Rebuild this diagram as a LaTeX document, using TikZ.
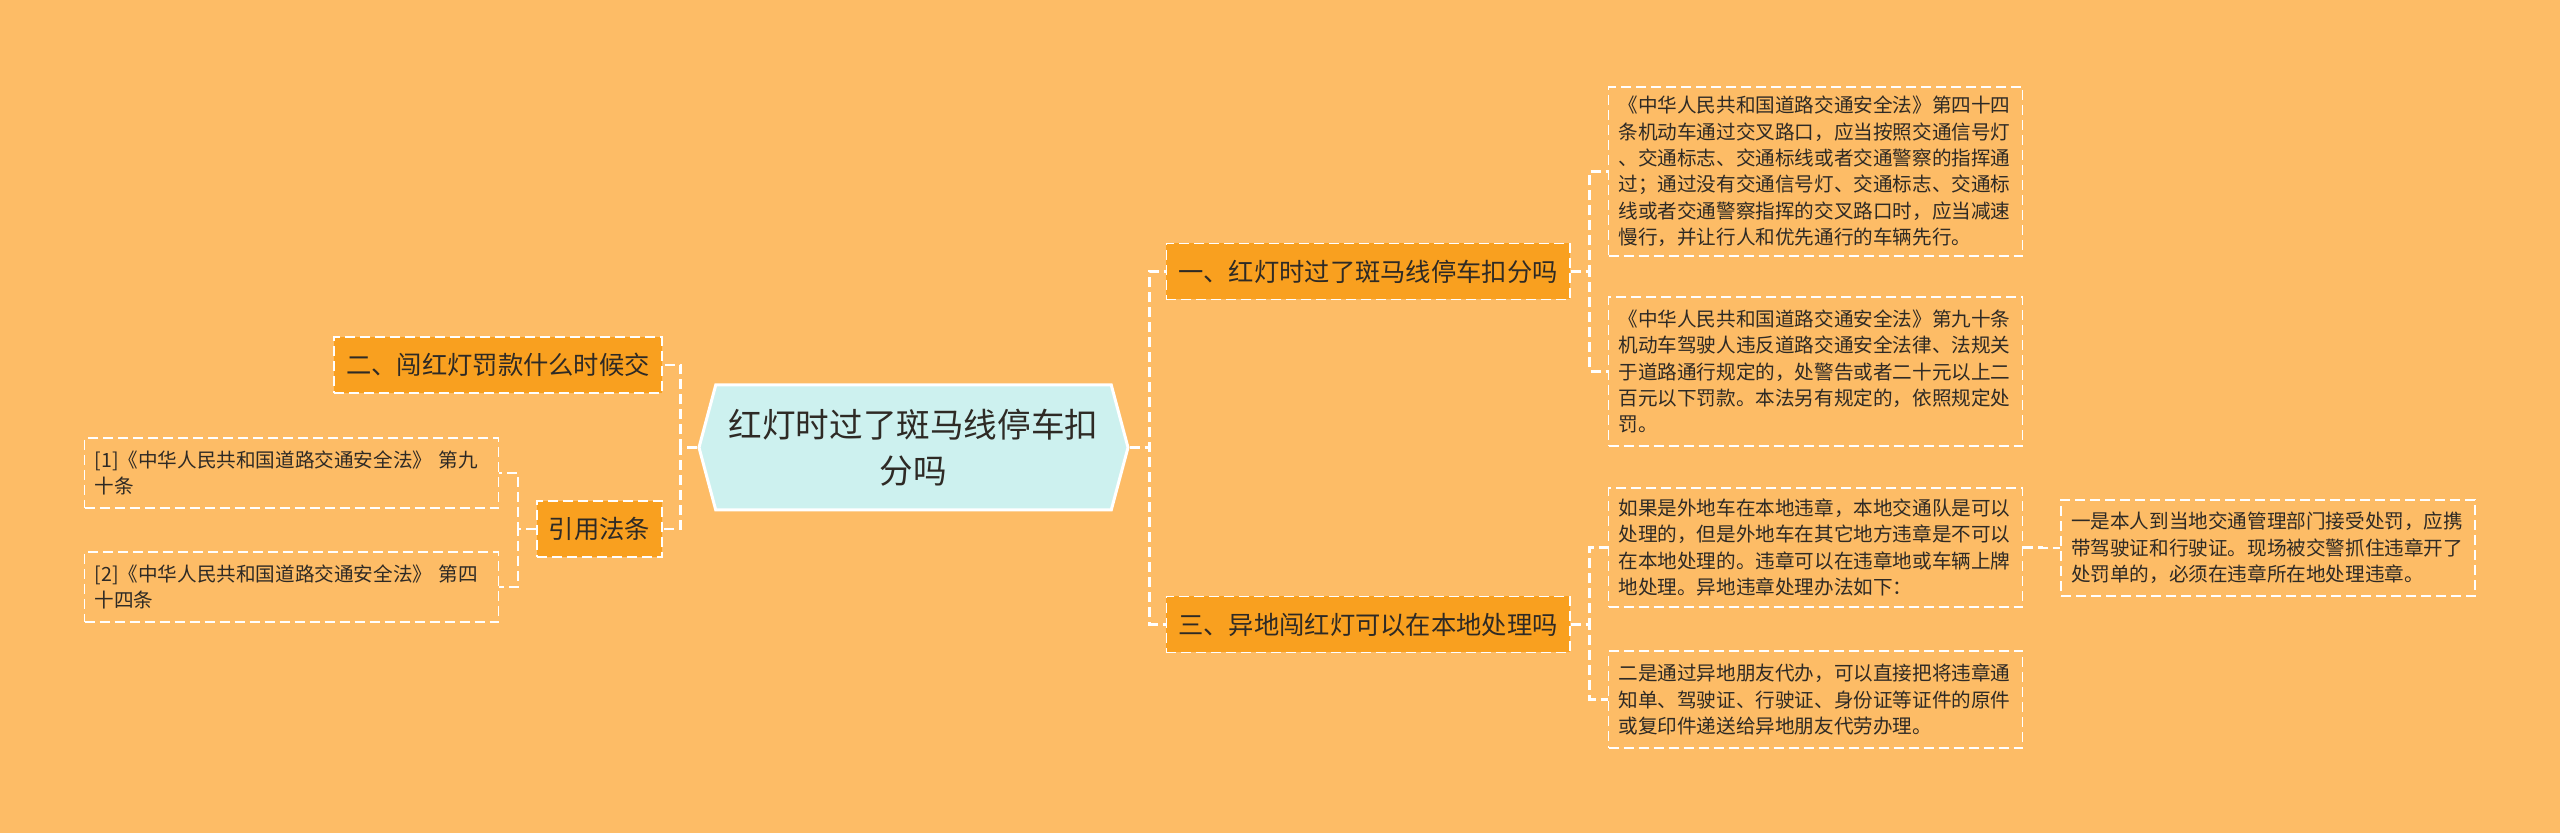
\documentclass[tikz,border=0pt]{standalone}
\usepackage{fontspec}
\setmainfont{Noto Sans CJK SC}
\usetikzlibrary{shapes.symbols}
\definecolor{fond}{HTML}{FDBC66}
\definecolor{branche}{HTML}{F9A01F}
\definecolor{racine}{HTML}{CDF1EF}
\definecolor{encre}{HTML}{2E2A25}
\newcommand{\feuille}[4]{%
    \node[leaf, minimum height=#3] (#1) at #2 {#4};%
}

\begin{document}
\begin{tikzpicture}[
        x=0.5pt,
        y=-0.5pt,
        root/.style={shape=signal, signal to=west and east, signal pointer angle=150,
                     draw=white, line width=1.5pt, fill=racine, minimum width=214.5pt,
                     minimum height=62.5pt, inner sep=0pt, align=center, text=encre,
                     font=\fontsize{16.8}{23}\selectfont},
        branch/.style={draw=white, dash pattern=on 5pt off 2.5pt, line width=0.75pt,
                       fill=branche, minimum height=28pt, inner xsep=6pt, text=encre,
                       font=\fontsize{12.65}{15}\selectfont},
        leaf/.style={draw=white, dash pattern=on 5pt off 2.5pt, line width=0.75pt,
                     text width=197pt, inner xsep=5pt, inner ysep=3pt, align=left,
                     text=encre, font=\fontsize{9.8}{13.2}\selectfont},
        link/.style={draw=white, line width=1.2pt, dash pattern=on 5pt off 2.5pt}
    ]
        \fill[fond] (0,0) rectangle (2560,833);
        \useasboundingbox (0,0) rectangle (2560,833);

        % === RACINE ===
        \node[root] (R) at (913.5,447.5) {红灯时过了斑马线停车扣\\分吗};

        % === BRANCHES ===
        \node[branch] (B1) at (1368,271.5) {一、红灯时过了斑马线停车扣分吗};
        \node[branch] (B3) at (1368,624.5) {三、异地闯红灯可以在本地处理吗};
        \node[branch] (B2) at (498,365) {二、闯红灯罚款什么时候交};
        \node[branch] (C) at (599.5,529) {引用法条};

        % === FEUILLES ===
        % \feuille{nom}{(x,y)}{hauteur}{texte}
        \feuille{L1}{(1815.5,171.5)}{84.5pt}{《中华人民共和国道路交通安全法》第四十四\\条机动车通过交叉路口，应当按照交通信号灯\\、交通标志、交通标线或者交通警察的指挥通\\过；通过没有交通信号灯、交通标志、交通标\\线或者交通警察指挥的交叉路口时，应当减速\\慢行，并让行人和优先通行的车辆先行。}
        \feuille{L2}{(1815.5,371.5)}{74.5pt}{《中华人民共和国道路交通安全法》第九十条\\机动车驾驶人违反道路交通安全法律、法规关\\于道路通行规定的，处警告或者二十元以上二\\百元以下罚款。本法另有规定的，依照规定处\\罚。}
        \feuille{L3}{(1815.5,547.5)}{59.5pt}{如果是外地车在本地违章，本地交通队是可以\\处理的，但是外地车在其它地方违章是不可以\\在本地处理的。违章可以在违章地或车辆上牌\\地处理。异地违章处理办法如下：}
        \feuille{L4}{(1815.5,699.5)}{48.5pt}{二是通过异地朋友代办，可以直接把将违章通\\知单、驾驶证、行驶证、身份证等证件的原件\\或复印件递送给异地朋友代劳办理。}
        \feuille{L5}{(2268,548)}{48pt}{一是本人到当地交通管理部门接受处罚，应携\\带驾驶证和行驶证。现场被交警抓住违章开了\\处罚单的，必须在违章所在地处理违章。}
        \feuille{F1}{(291.5,473)}{35pt}{[1]《中华人民共和国道路交通安全法》 第九\\十条}
        \feuille{F2}{(291.5,587)}{35pt}{[2]《中华人民共和国道路交通安全法》 第四\\十四条}

        % === LIAISONS ===
        \draw[link] (R.east) -- ++(20,0) |- (B1.west);
        \draw[link] (R.east) -- ++(20,0) |- (B3.west);
        \draw[link] (R.west) -- ++(-17,0) |- (B2.east);
        \draw[link] (R.west) -- ++(-17,0) |- (C.east);
        \draw[link] (B1.east) -- ++(19,0) |- (L1.west);
        \draw[link] (B1.east) -- ++(19,0) |- (L2.west);
        \draw[link] (B3.east) -- ++(19,0) |- (L3.west);
        \draw[link] (B3.east) -- ++(19,0) |- (L4.west);
        \draw[link] (L3.east) -- ++(19,0) |- (L5.west);
        \draw[link] (C.west) -- ++(-18,0) |- (F1.east);
        \draw[link] (C.west) -- ++(-18,0) |- (F2.east);
    \end{tikzpicture}
\end{document}
